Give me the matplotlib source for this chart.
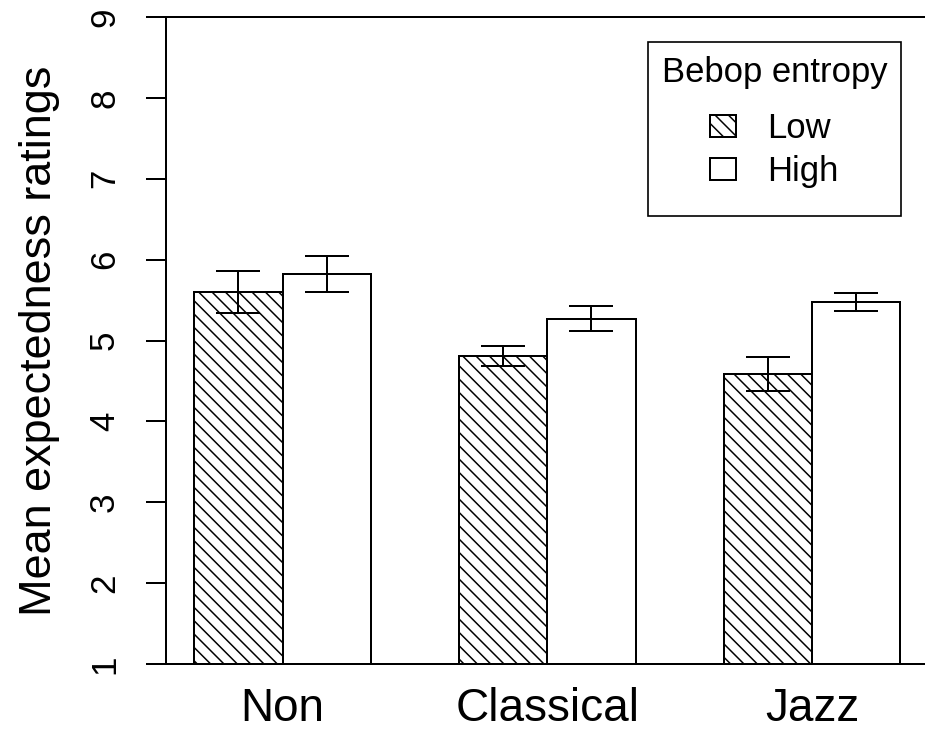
import matplotlib
matplotlib.use("Agg")
import matplotlib.pyplot as plt
import numpy as np

plt.rcParams['font.family'] = ['Liberation Sans', 'DejaVu Sans']
plt.rcParams['hatch.linewidth'] = 0.9

# values
groups = ["Non", "Classical", "Jazz"]
low_mean = [5.60, 4.81, 4.58]
high_mean = [5.82, 5.27, 5.48]
low_err = [0.26, 0.12, 0.21]
high_err = [0.22, 0.155, 0.11]
yticks = [1, 2, 3, 4, 5, 6, 7, 8, 9]

W, H, DPI = 925, 733, 120
fig = plt.figure(figsize=(W / DPI, H / DPI), dpi=DPI)
ax = fig.add_axes([166 / W, (H - 664) / H, (928.6 - 166) / W, (664 - 17) / H])

centers = np.arange(len(groups)) * 3 + 2
x_low = centers - 0.5
x_high = centers + 0.5

lw = 1.2
ax.bar(x_low, low_mean, width=1, bottom=0, color='white', edgecolor='black',
       hatch='\\\\\\', linewidth=lw, label='Low')
ax.bar(x_high, high_mean, width=1, bottom=0, color='white', edgecolor='black',
       linewidth=lw, label='High')

ax.errorbar(x_low, low_mean, yerr=low_err, fmt='none', ecolor='black',
            elinewidth=lw, capsize=13.4, capthick=lw)
ax.errorbar(x_high, high_mean, yerr=high_err, fmt='none', ecolor='black',
            elinewidth=lw, capsize=13.4, capthick=lw)

ax.set_xlim(0.68, 9.32)
ax.set_ylim(1, 9)

for s in ax.spines.values():
    s.set_linewidth(lw)

ax.set_yticks(yticks)
ax.set_yticklabels([str(v) for v in yticks], rotation=90, va='center')
ax.tick_params(axis='y', length=12, width=lw, pad=15, labelsize=21)
ax.set_xticks(centers)
ax.set_xticklabels(groups)
ax.tick_params(axis='x', length=0, pad=14, labelsize=27.5)

ax.set_ylabel("Mean expectedness ratings", fontsize=27, labelpad=17)

leg = ax.legend(title="Bebop entropy", loc='upper right',
                bbox_to_anchor=(901 / W, 1 - 42 / H), bbox_transform=fig.transFigure,
                borderaxespad=0, fontsize=20.8, title_fontsize=20.8,
                fancybox=False, framealpha=1, edgecolor='black',
                handlelength=0.75, handleheight=0.6, handletextpad=0.9,
                labelspacing=0.28, borderpad=0.4)
leg.get_frame().set_linewidth(1.0)
# extra room around the entries, like the R legend
leg._legend_box.sep = 5.5
leg._legend_handle_box.pad = 8.5

fig.savefig("out.png", dpi=DPI)
